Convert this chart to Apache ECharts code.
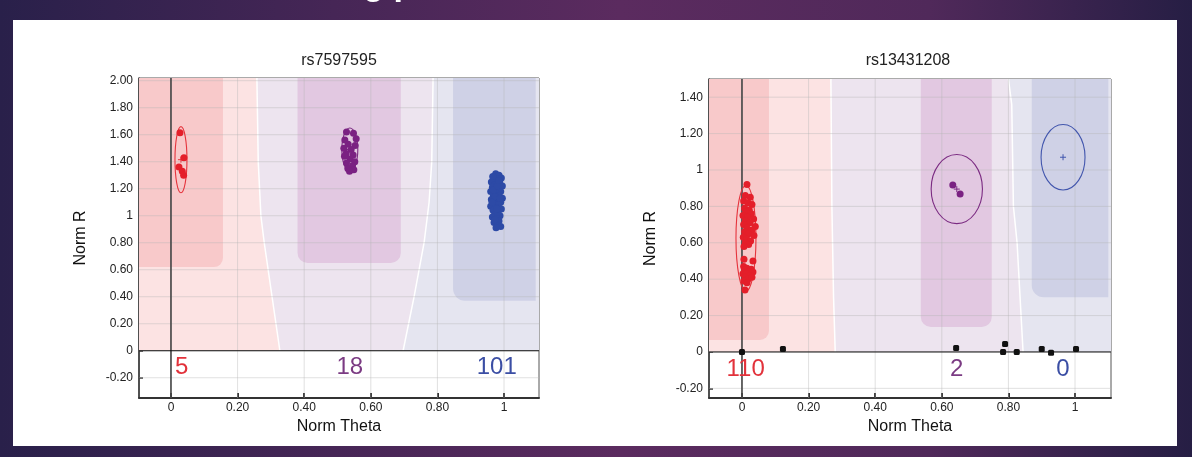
<!DOCTYPE html>
<html>
<head>
<meta charset="utf-8">
<script src="https://cdn.jsdelivr.net/npm/echarts@6/dist/echarts.min.js"></script>
<style>
  html, body { margin: 0; padding: 0; width: 1192px; height: 457px; overflow: hidden;
    background: linear-gradient(90deg, #29204a 0%, #462656 28%, #5b2b5f 52%, #50295a 78%, #261e44 100%); }
  #panel { position: absolute; left: 13px; top: 20px; width: 1164px; height: 426px; background: #fff; }
  #chart { position: absolute; left: 0; top: 0; width: 1192px; height: 457px; }
</style>
</head>
<body>
<div id="panel"></div>
<div id="chart"></div>
<script>
// tick labels
const thetaTicks = [0, 0.2, 0.4, 0.6, 0.8, 1];
const rTicksLeft = [-0.2, 0, 0.2, 0.4, 0.6, 0.8, 1, 1.2, 1.4, 1.6, 1.8, 2.0];
const rTicksRight = [-0.2, 0, 0.2, 0.4, 0.6, 0.8, 1, 1.2, 1.4];
const snpNames = ['rs7597595', 'rs13431208'];

// call counts per genotype (AA, AB, BB) and the theta where they are printed
const countsLeft = [5, 18, 101];
const countsRight = [110, 2, 0];
const countThetaLeft = [0.032, 0.537, 0.978];
const countThetaRight = [0.011, 0.645, 0.964];

// samples (Norm Theta, Norm R)
const leftAA = [[0.027,1.615],[0.039,1.43],[0.024,1.36],[0.034,1.33],[0.038,1.30]];
const leftAB = [[0.527,1.62],[0.548,1.61],[0.556,1.57],[0.522,1.56],[0.532,1.53],[0.553,1.52],
  [0.519,1.50],[0.541,1.49],[0.526,1.46],[0.547,1.45],[0.521,1.44],[0.538,1.42],[0.552,1.40],
  [0.527,1.39],[0.545,1.37],[0.531,1.35],[0.549,1.34],[0.536,1.33]];
const leftBB = [[0.975,1.31],[0.985,1.30],[0.968,1.28],[0.992,1.28],[0.978,1.27],[0.962,1.25],
  [0.987,1.25],[0.972,1.23],[0.995,1.22],[0.965,1.21],[0.982,1.20],[0.960,1.18],[0.990,1.18],
  [0.975,1.17],[0.968,1.15],[0.985,1.15],[0.995,1.13],[0.962,1.12],[0.978,1.12],[0.990,1.10],
  [0.970,1.09],[0.983,1.08],[0.960,1.07],[0.975,1.06],[0.992,1.05],[0.967,1.04],[0.982,1.03],
  [0.972,1.01],[0.988,1.00],[0.965,0.99],[0.978,0.98],[0.985,0.96],[0.970,0.95],[0.980,0.93],
  [0.990,0.92],[0.976,0.91],[0.968,1.19],[0.980,1.22],[0.973,1.14],[0.988,1.13],[0.964,1.10],
  [0.979,1.05],[0.972,0.97],[0.984,1.26],[0.966,1.29]];
const rightAA = [[0.015,0.92],[0.010,0.86],[0.025,0.85],[0.005,0.83],[0.018,0.82],[0.030,0.81],
  [0.008,0.79],[0.022,0.78],[0.012,0.77],[0.028,0.76],[0.003,0.75],[0.017,0.74],[0.035,0.73],
  [0.010,0.72],[0.024,0.71],[0.005,0.70],[0.040,0.69],[0.015,0.68],[0.030,0.67],[0.008,0.66],
  [0.020,0.65],[0.036,0.64],[0.004,0.63],[0.014,0.62],[0.026,0.61],[0.010,0.60],[0.020,0.59],
  [0.006,0.58],[0.006,0.51],[0.033,0.50],[0.005,0.47],[0.015,0.46],[0.028,0.455],[0.008,0.45],
  [0.020,0.44],[0.033,0.44],[0.003,0.43],[0.012,0.43],[0.025,0.42],[0.010,0.41],[0.018,0.40],
  [0.030,0.41],[0.006,0.39],[0.015,0.38],[0.009,0.34]];
const rightAB = [[0.633,0.918],[0.655,0.868]];
const rightNoCall = [[0,0],[0.123,0.016],[0.643,0.022],[0.784,0],[0.79,0.044],[0.825,0],
  [0.90,0.016],[0.928,-0.005],[1.003,0.016]];

// cluster ovals: [genotype, theta, R, theta radius, R radius]
const ovalsLeft = [[0,0.03,1.415,0.018,0.245],[1,0.537,1.49,0.024,0.16]];
const ovalsRight = [[0,0.012,0.625,0.03,0.29],[1,0.645,0.895,0.077,0.19],[2,0.964,1.07,0.066,0.18]];

// call region edges (top to bottom) and core areas [theta0, theta1, R0, R1]
const edgesLeft = [
  [[0.258,2.02],[0.262,1.4],[0.27,1.0],[0.28,0.8],[0.327,0]],
  [[0.787,2.02],[0.783,1.4],[0.775,1.1],[0.76,0.8],[0.73,0.4],[0.697,0]]
];
const edgesRight = [
  [[0.267,1.5],[0.27,0.8],[0.275,0.3],[0.28,0]],
  [[0.80,1.5],[0.81,1.36],[0.815,0.8],[0.826,0.6],[0.844,0]]
];
const coresLeft = [[-0.096,0.156,0.62,2.02],[0.38,0.69,0.65,2.02],[0.847,1.095,0.37,2.02]];
const coresRight = [[-0.099,0.081,0.066,1.5],[0.537,0.75,0.137,1.5],[0.87,1.10,0.30,1.5]];

const dotColors = ['#e41f2a', '#7a2182', '#2d4aa6'];
const ovalColors = ['#e5343d', '#7b2b82', '#4256ad'];
const textColors = ['#e2323b', '#7b3b83', '#3b4ea4'];
const coreColors = ['#f8c9ca', '#e2c8e1', '#cfd1e6'];
const lightColors = ['#fce3e3', '#ede4ef', '#e5e5f0'];
const coreCorners = [[0, 0, 9, 0], [0, 0, 10, 10], [0, 0, 0, 12]];
const FONT = '"Liberation Sans", Arial, sans-serif';

const panels = [
  { grid: { left: 139, top: 78, width: 400, height: 320 }, x: [-0.096, 1.105], y: [-0.35, 2.02],
    rTicks: rTicksLeft, edges: edgesLeft, cores: coresLeft, ovals: ovalsLeft,
    counts: countsLeft, countTheta: countThetaLeft, countR: -0.122,
    dots: [[leftAA, 0], [leftAB, 1], [leftBB, 2]], titleX: 339 },
  { grid: { left: 709, top: 79, width: 402, height: 319 }, x: [-0.099, 1.108], y: [-0.253, 1.5],
    rTicks: rTicksRight, edges: edgesRight, cores: coresRight, ovals: ovalsRight,
    counts: countsRight, countTheta: countThetaRight, countR: -0.093,
    dots: [[rightAA, 0], [rightAB, 1]], noCall: rightNoCall, titleX: 908 }
];

function fmt(v) {
  if (Math.abs(v) < 1e-9) return '0';
  if (Math.abs(v - 1) < 1e-9) return '1';
  return v.toFixed(2);
}

function regionPolys(P) {
  const x0 = P.x[0], x1 = P.x[1], top = P.y[1];
  const e0 = P.edges[0], e1 = P.edges[1];
  return [
    [[x0, 0], [x0, top]].concat(e0),
    e0.slice().reverse().concat(e1),
    e1.slice().reverse().concat([[x1, top], [x1, 0]])
  ];
}

const grids = [], xAxes = [], yAxes = [], series = [];

panels.forEach((P, p) => {
  grids.push(Object.assign({ show: true, borderColor: '#555', borderWidth: 1, backgroundColor: 'transparent' }, P.grid));
  xAxes.push({
    type: 'value', gridIndex: p, min: P.x[0], max: P.x[1],
    name: 'Norm Theta', nameLocation: 'middle', nameGap: 20,
    nameTextStyle: { fontSize: 16, color: '#111', fontFamily: FONT },
    axisLine: { show: true, onZero: false, lineStyle: { color: '#333', width: 2 } },
    axisTick: { show: true, inside: true, length: 5, customValues: thetaTicks, lineStyle: { color: '#333', width: 2 } },
    axisLabel: { customValues: thetaTicks, formatter: fmt, color: '#222', fontSize: 12, margin: 4, fontFamily: FONT },
    splitLine: { show: false }
  });
  yAxes.push({
    type: 'value', gridIndex: p, min: P.y[0], max: P.y[1],
    name: 'Norm R', nameLocation: 'middle', nameGap: 50, nameRotate: 90,
    nameTextStyle: { fontSize: 16, color: '#111', fontFamily: FONT },
    axisLine: { show: true, onZero: false, lineStyle: { color: '#333', width: 1.5 } },
    axisTick: { show: true, inside: true, length: 4, customValues: P.rTicks, lineStyle: { color: '#333', width: 1.5 } },
    axisLabel: { customValues: P.rTicks, formatter: fmt, color: '#222', fontSize: 12, margin: 6, fontFamily: FONT },
    splitLine: { show: false }
  });

  // call regions, grid lines, zero lines
  series.push({
    type: 'custom', xAxisIndex: p, yAxisIndex: p, z: 1, silent: true, clip: true,
    data: [[0, 0]],
    renderItem: function (params, api) {
      const cs = params.coordSys;
      const pt = function (d) { return api.coord(d); };
      const kids = [];
      regionPolys(P).forEach(function (poly, g) {
        kids.push({ type: 'polygon', shape: { points: poly.map(pt) }, style: { fill: lightColors[g] } });
      });
      P.edges.forEach(function (e) {
        kids.push({ type: 'polyline', shape: { points: e.map(pt) }, style: { stroke: '#ffffff', lineWidth: 1.5, fill: null } });
      });
      P.cores.forEach(function (c, g) {
        const a = pt([c[0], c[3]]), b = pt([c[1], c[2]]);
        kids.push({ type: 'rect', shape: { x: a[0], y: a[1], width: b[0] - a[0], height: b[1] - a[1], r: coreCorners[g] },
          style: { fill: coreColors[g] } });
      });
      const gl = 'rgba(180,180,180,0.42)';
      thetaTicks.forEach(function (v) {
        const x = pt([v, 0])[0];
        kids.push({ type: 'line', shape: { x1: x, y1: cs.y, x2: x, y2: cs.y + cs.height }, style: { stroke: gl, lineWidth: 1 } });
      });
      P.rTicks.forEach(function (v) {
        const y = pt([0, v])[1];
        kids.push({ type: 'line', shape: { x1: cs.x, y1: y, x2: cs.x + cs.width, y2: y }, style: { stroke: gl, lineWidth: 1 } });
      });
      const o = pt([0, 0]);
      kids.push({ type: 'line', shape: { x1: o[0], y1: cs.y, x2: o[0], y2: cs.y + cs.height }, style: { stroke: '#444', lineWidth: 1.6 } });
      kids.push({ type: 'line', shape: { x1: cs.x, y1: o[1], x2: cs.x + cs.width, y2: o[1] }, style: { stroke: '#111', lineWidth: 1 } });
      return { type: 'group', children: kids };
    }
  });

  // cluster ovals
  series.push({
    type: 'custom', xAxisIndex: p, yAxisIndex: p, z: 3, silent: true,
    data: P.ovals.map(function (o) { return [o[1], o[2]]; }),
    renderItem: function (params, api) {
      const o = P.ovals[params.dataIndex];
      const c = api.coord([o[1], o[2]]);
      const s = api.size([o[3], o[4]]);
      const col = ovalColors[o[0]];
      return { type: 'group', children: [
        { type: 'ellipse', shape: { cx: c[0], cy: c[1], rx: s[0], ry: s[1] }, style: { fill: null, stroke: col, lineWidth: 1.1 } },
        { type: 'line', shape: { x1: c[0] - 3, y1: c[1], x2: c[0] + 3, y2: c[1] }, style: { stroke: col, lineWidth: 1 } },
        { type: 'line', shape: { x1: c[0], y1: c[1] - 3, x2: c[0], y2: c[1] + 3 }, style: { stroke: col, lineWidth: 1 } }
      ] };
    }
  });

  // samples
  P.dots.forEach(function (d) {
    series.push({
      type: 'scatter', xAxisIndex: p, yAxisIndex: p, z: 4, silent: true,
      symbol: 'circle', symbolSize: 7, data: d[0],
      itemStyle: { color: dotColors[d[1]], opacity: 1 }
    });
  });
  if (P.noCall) {
    series.push({
      type: 'scatter', xAxisIndex: p, yAxisIndex: p, z: 4, silent: true,
      symbol: 'roundRect', symbolSize: 6, data: P.noCall,
      itemStyle: { color: '#111', opacity: 1 }
    });
  }

  // call counts
  series.push({
    type: 'custom', xAxisIndex: p, yAxisIndex: p, z: 5, silent: true,
    data: P.counts.map(function (n, g) { return [P.countTheta[g], P.countR, n]; }),
    renderItem: function (params, api) {
      const c = api.coord([api.value(0), api.value(1)]);
      return { type: 'text', x: c[0], y: c[1],
        style: { text: String(api.value(2)), fill: textColors[params.dataIndex], fontSize: 24,
          fontFamily: FONT, align: 'center', verticalAlign: 'middle' } };
    }
  });
});

const chart = echarts.init(document.getElementById('chart'), null, { renderer: 'canvas' });
chart.setOption({
  backgroundColor: 'transparent',
  animation: false,
  textStyle: { fontFamily: FONT },
  graphic: [
    { type: 'text', x: 216, y: -31, silent: true,
      style: { text: 'Clustering plots', fill: '#ffffff', fontSize: 34, fontWeight: 'bold', fontFamily: FONT } }
  ].concat(panels.map(function (P, p) {
    return { type: 'text', x: P.titleX, y: 61, silent: true,
      style: { text: snpNames[p], fill: '#222', fontSize: 16, fontFamily: FONT, align: 'center', verticalAlign: 'middle' } };
  })),
  grid: grids,
  xAxis: xAxes,
  yAxis: yAxes,
  series: series
});
</script>
</body>
</html>
